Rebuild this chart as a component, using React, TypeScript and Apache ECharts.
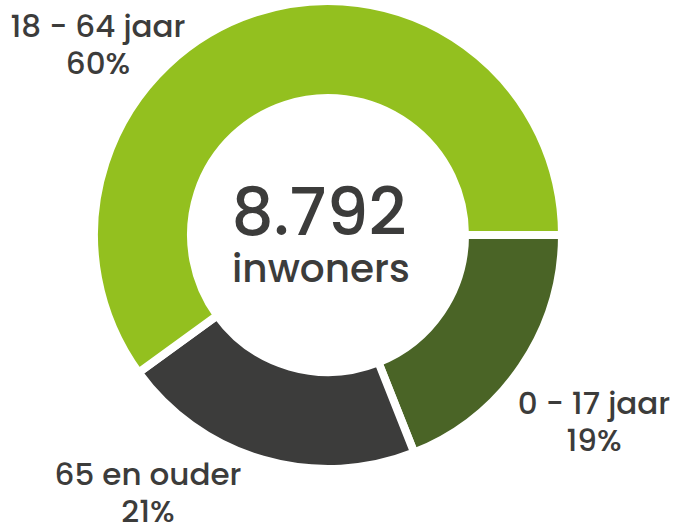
import React, { useEffect, useRef } from "react";
import * as echarts from "echarts";

const categories = ["0 - 17 jaar", "65 en ouder", "18 - 64 jaar"];
const percentages = [19, 21, 60];
const colors = ["#4a6426", "#3c3c3b", "#93c01f"];
const totalLabel = "8.792";
const totalSubLabel = "inwoners";

const labelPositions = [
  [594, 421],
  [148, 492],
  [98, 44],
];

const FONT = "Poppins, 'Open Sans', sans-serif";

export default function App() {
  const ref = useRef<HTMLDivElement>(null);
  useEffect(() => {
    document.body.style.margin = "0";
    const chart = echarts.init(ref.current!, null, { renderer: "svg" });
    chart.setOption({
      animation: false,
      backgroundColor: "#ffffff",
      graphic: [
        {
          type: "text",
          x: 319,
          y: 212,
          style: {
            text: totalLabel,
            fontSize: 66,
            lineHeight: 66,
            fontWeight: 500,
            fontFamily: FONT,
            fill: "#3c3c3b",
            align: "center",
            verticalAlign: "middle",
          },
        },
        {
          type: "text",
          x: 321,
          y: 268,
          style: {
            text: totalSubLabel,
            fontSize: 39,
            lineHeight: 39,
            fontWeight: 500,
            fontFamily: FONT,
            fill: "#3c3c3b",
            align: "center",
            verticalAlign: "middle",
          },
        },
      ],
      series: [
        {
          type: "pie",
          center: [328, 235],
          radius: [137, 234],
          startAngle: 0,
          clockwise: true,
          avoidLabelOverlap: false,
          itemStyle: { borderColor: "#ffffff", borderWidth: 8 },
          label: {
            show: true,
            position: "outside",
            formatter: "{b}\n{c}%",
            fontSize: 31,
            lineHeight: 37,
            fontWeight: 500,
            fontFamily: FONT,
            color: "#3c3c3b",
            align: "center",
          },
          labelLine: { show: false },
          labelLayout: (params: any) => {
            const p = labelPositions[params.dataIndex];
            return { x: p[0], y: p[1], align: "center", verticalAlign: "middle" };
          },
          emphasis: { disabled: true },
          data: categories.map((name, i) => ({
            name,
            value: percentages[i],
            itemStyle: { color: colors[i] },
          })),
        },
      ],
    });
    return () => chart.dispose();
  }, []);
  return (
    <div
      ref={ref}
      style={{ position: "absolute", left: 0, top: 0, width: 677, height: 526 }}
    />
  );
}
